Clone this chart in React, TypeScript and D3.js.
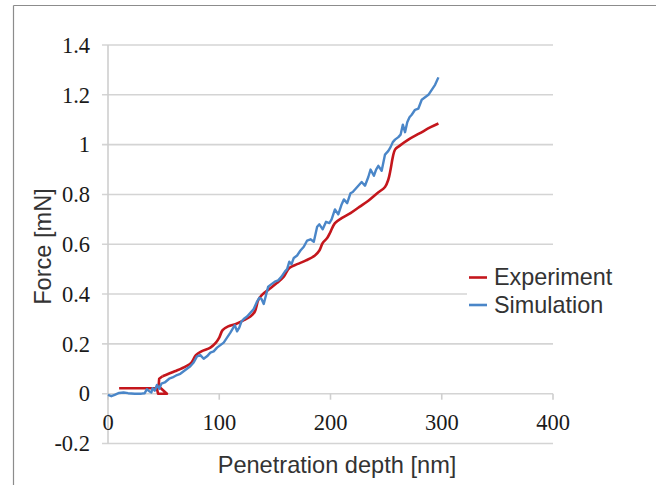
import React from "react";
import * as d3 from "d3";

const xTicks = [0, 100, 200, 300, 400];
const yTicks = [-0.2, 0, 0.2, 0.4, 0.6, 0.8, 1, 1.2, 1.4];
const seriesNames = ["Experiment", "Simulation"];

const experiment: [number, number][] = [
  [10, 0.022], [42, 0.022], [44, 0.02], [45, 0.0], [53, 0.0], [45.5, 0.03], [46, 0.06], [49, 0.07],
  [60, 0.09], [70, 0.11], [75, 0.125], [79, 0.155], [84, 0.17], [92, 0.185], [97, 0.205],
  [100, 0.225], [103, 0.255], [108, 0.27], [115, 0.28], [122, 0.295], [128, 0.31], [132, 0.33],
  [135, 0.375], [138, 0.395], [145, 0.42], [152, 0.445], [158, 0.47], [163, 0.505], [170, 0.52],
  [178, 0.535], [186, 0.555], [190, 0.575], [193, 0.605], [197, 0.625], [200, 0.65], [204, 0.685],
  [210, 0.705], [218, 0.725], [226, 0.75], [234, 0.775], [242, 0.805], [249, 0.83], [252, 0.86],
  [254, 0.9], [256, 0.95], [258, 0.98], [262, 0.995], [270, 1.02], [280, 1.045], [290, 1.07],
  [297, 1.085],
];

const simulation: [number, number][] = [
  [0, -0.005], [3, -0.01], [6, -0.005], [10, 0.003], [14, 0.005], [18, 0.002], [24, 0.0], [30, 0.0],
  [33, 0.002], [35, 0.018], [37, 0.01], [39, 0.005], [40, 0.022], [42, 0.012], [44, 0.035],
  [46, 0.02], [48, 0.04], [51, 0.045], [55, 0.06], [58, 0.065], [62, 0.075], [65, 0.08], [68, 0.09],
  [71, 0.1], [74, 0.11], [77, 0.125], [80, 0.15], [83, 0.155], [86, 0.14], [89, 0.15], [92, 0.165],
  [95, 0.17], [98, 0.185], [101, 0.195], [104, 0.205], [107, 0.225], [110, 0.245], [112, 0.26],
  [114, 0.275], [116, 0.25], [118, 0.265], [120, 0.29], [122, 0.3], [125, 0.31], [128, 0.325],
  [131, 0.34], [134, 0.37], [136, 0.385], [138, 0.38], [140, 0.36], [142, 0.395], [144, 0.43],
  [147, 0.44], [150, 0.45], [153, 0.455], [156, 0.47], [159, 0.49], [161, 0.5], [163, 0.53],
  [165, 0.52], [167, 0.545], [170, 0.555], [173, 0.575], [176, 0.59], [179, 0.615], [182, 0.62],
  [185, 0.61], [188, 0.67], [190, 0.68], [193, 0.66], [196, 0.69], [199, 0.685], [201, 0.7],
  [204, 0.74], [207, 0.72], [210, 0.76], [212, 0.78], [215, 0.765], [218, 0.805], [220, 0.81],
  [222, 0.82], [225, 0.835], [228, 0.85], [231, 0.835], [234, 0.87], [236, 0.9], [239, 0.875],
  [241, 0.9], [243, 0.915], [246, 0.895], [249, 0.96], [252, 0.975], [254, 0.99], [256, 1.01],
  [258, 1.02], [261, 1.03], [263, 1.04], [265, 1.08], [267, 1.05], [269, 1.09], [271, 1.11],
  [273, 1.12], [276, 1.14], [279, 1.145], [282, 1.18], [285, 1.19], [288, 1.2], [291, 1.22],
  [294, 1.24], [297, 1.27],
];

const W = 656;
const H = 485;
const RED = "#c4161c";
const BLUE = "#4a86c8";

export default function App() {
  const x = d3.scaleLinear().domain([0, 400]).range([108, 553]);
  const y = d3.scaleLinear().domain([-0.2, 1.4]).range([443.5, 45]);
  const smooth = d3
    .line<[number, number]>()
    .x((d) => x(d[0]))
    .y((d) => y(d[1]))
    .curve(d3.curveCatmullRom.alpha(0.5));
  const straight = d3
    .line<[number, number]>()
    .x((d) => x(d[0]))
    .y((d) => y(d[1]));
  const fmt = (v: number) => (Math.abs(v) < 1e-9 ? "0" : String(Math.round(v * 10) / 10));
  const split = 7;

  return (
    <svg
      width={W}
      height={H}
      style={{ position: "absolute", left: 0, top: 0, background: "#fff" }}
    >
      <rect x={0} y={0} width={W} height={H} fill="#fff" />
      <line x1={13.5} y1={5.5} x2={W} y2={5.5} stroke="#8c8c8c" strokeWidth={1.2} />
      <line x1={13.5} y1={5.5} x2={13.5} y2={H} stroke="#8c8c8c" strokeWidth={1.2} />

      {yTicks.map((t) => (
        <line
          key={"g" + t}
          x1={102}
          x2={553}
          y1={y(t)}
          y2={y(t)}
          stroke="#d4d4d4"
          strokeWidth={1.6}
        />
      ))}
      <line x1={x(0)} x2={x(0)} y1={y(1.4)} y2={y(-0.2)} stroke="#cfcfcf" strokeWidth={1.6} />
      {xTicks.map((t) => (
        <line
          key={"xt" + t}
          x1={x(t)}
          x2={x(t)}
          y1={y(0)}
          y2={y(0) + 6}
          stroke="#cfcfcf"
          strokeWidth={1.6}
        />
      ))}

      {yTicks.map((t) => (
        <text
          key={"yl" + t}
          x={90}
          y={y(t) + 7.8}
          textAnchor="end"
          fontFamily="'Liberation Serif', 'Times New Roman', serif"
          fontSize={22.5}
          fill="#1a1a1a"
        >
          {fmt(t)}
        </text>
      ))}
      {xTicks.map((t) => (
        <text
          key={"xl" + t}
          x={x(t)}
          y={429.5}
          textAnchor="middle"
          fontFamily="'Liberation Serif', 'Times New Roman', serif"
          fontSize={22.5}
          fill="#1a1a1a"
        >
          {fmt(t)}
        </text>
      ))}

      <text
        x={337}
        y={473}
        textAnchor="middle"
        fontFamily="'Liberation Sans', Arial, sans-serif"
        fontSize={23.6}
        fill="#333"
      >
        Penetration depth [nm]
      </text>
      <text
        transform={`translate(51, 246.5) rotate(-90)`}
        textAnchor="middle"
        fontFamily="'Liberation Sans', Arial, sans-serif"
        fontSize={23.6}
        fill="#333"
      >
        Force [mN]
      </text>

      <path
        d={straight(experiment.slice(0, split + 1)) || ""}
        fill="none"
        stroke={RED}
        strokeWidth={2.6}
        strokeLinejoin="round"
      />
      <path
        d={smooth(experiment.slice(split)) || ""}
        fill="none"
        stroke={RED}
        strokeWidth={2.6}
        strokeLinejoin="round"
      />
      <path d={straight(simulation) || ""} fill="none" stroke={BLUE} strokeWidth={2.4} strokeLinejoin="round" />

      <rect x={467} y={258} width={150} height={60} fill="#fff" />
      {seriesNames.map((n, i) => (
        <g key={n}>
          <line
            x1={469}
            x2={487}
            y1={277.5 + i * 27.5}
            y2={277.5 + i * 27.5}
            stroke={i === 0 ? RED : BLUE}
            strokeWidth={2.6}
          />
          <text
            x={494}
            y={285 + i * 27.5}
            fontFamily="'Liberation Sans', Arial, sans-serif"
            fontSize={23.4}
            fill="#333"
          >
            {n}
          </text>
        </g>
      ))}
    </svg>
  );
}
